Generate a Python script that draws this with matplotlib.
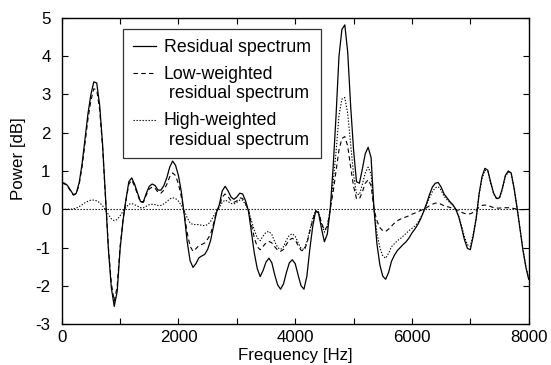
import numpy as np
import matplotlib
matplotlib.use("Agg")
import matplotlib.pyplot as plt

plt.rcParams["font.family"] = ["Liberation Sans", "DejaVu Sans"]
plt.rcParams["axes.unicode_minus"] = False

# frequency grid (Hz), 50 Hz steps
freq = np.arange(0, 8001, 50)

residual = [
    0.70, 0.68, 0.62, 0.50, 0.38, 0.42, 0.70, 1.20, 1.85, 2.50,
    3.00, 3.33, 3.30, 2.72, 1.70, 0.35, -1.05, -2.05, -2.54, -2.15,
    -1.05, -0.30, 0.25, 0.72, 0.82, 0.65, 0.42, 0.20, 0.20, 0.42,
    0.60, 0.66, 0.62, 0.50, 0.50, 0.62, 0.82, 1.10, 1.26, 1.15,
    0.88, 0.45, -0.15, -0.85, -1.35, -1.52, -1.42, -1.27, -1.22, -1.18,
    -1.05, -0.82, -0.45, -0.10, 0.12, 0.48, 0.60, 0.48, 0.32, 0.26,
    0.32, 0.42, 0.40, 0.22, -0.05, -0.60, -1.15, -1.55, -1.76, -1.60,
    -1.38, -1.28, -1.40, -1.72, -1.98, -2.09, -1.95, -1.65, -1.40, -1.32,
    -1.42, -1.72, -2.00, -2.09, -1.75, -1.05, -0.45, -0.05, -0.10, -0.50,
    -0.85, -0.65, 0.00, 1.10, 2.45, 4.00, 4.70, 4.82, 4.10, 2.70,
    1.55, 0.72, 0.68, 1.05, 1.45, 1.62, 1.35, 0.00, -0.90, -1.45,
    -1.75, -1.83, -1.65, -1.36, -1.20, -1.08, -1.00, -0.92, -0.85, -0.75,
    -0.62, -0.52, -0.40, -0.25, -0.06, 0.15, 0.38, 0.58, 0.68, 0.70,
    0.58, 0.40, 0.30, 0.20, 0.12, 0.00, -0.19, -0.48, -0.80, -1.02,
    -1.06, -0.70, -0.25, 0.40, 0.85, 1.07, 1.02, 0.70, 0.42, 0.28,
    0.30, 0.55, 0.88, 1.00, 0.95, 0.55, 0.05, -0.50, -1.05, -1.50,
    -1.83,
]

low_weighted = [
    0.68, 0.66, 0.60, 0.48, 0.37, 0.40, 0.66, 1.12, 1.74, 2.36,
    2.84, 3.15, 3.12, 2.60, 1.62, 0.32, -1.00, -1.93, -2.40, -2.02,
    -0.98, -0.28, 0.22, 0.66, 0.76, 0.60, 0.38, 0.18, 0.18, 0.38,
    0.53, 0.58, 0.55, 0.44, 0.42, 0.50, 0.65, 0.85, 0.95, 0.88,
    0.66, 0.32, -0.12, -0.62, -0.97, -1.10, -1.03, -0.95, -0.92, -0.88,
    -0.78, -0.65, -0.38, -0.08, 0.08, 0.32, 0.40, 0.33, 0.22, 0.18,
    0.22, 0.30, 0.28, 0.15, -0.03, -0.40, -0.75, -0.98, -1.06, -0.97,
    -0.88, -0.84, -0.88, -0.98, -1.07, -1.10, -1.05, -0.92, -0.80, -0.76,
    -0.80, -0.95, -1.07, -1.09, -0.90, -0.58, -0.28, -0.05, -0.08, -0.35,
    -0.55, -0.45, 0.00, 0.45, 1.00, 1.55, 1.85, 1.90, 1.65, 1.10,
    0.60, 0.28, 0.27, 0.45, 0.68, 0.77, 0.62, 0.00, -0.30, -0.48,
    -0.56, -0.58, -0.52, -0.44, -0.36, -0.30, -0.26, -0.23, -0.20, -0.17,
    -0.13, -0.10, -0.07, -0.03, 0.00, 0.04, 0.09, 0.13, 0.16, 0.16,
    0.13, 0.09, 0.07, 0.05, 0.02, 0.00, -0.04, -0.08, -0.11, -0.12,
    -0.12, -0.08, -0.02, 0.05, 0.10, 0.11, 0.10, 0.07, 0.04, 0.03,
    0.03, 0.04, 0.04, 0.04, 0.03, 0.02, 0.00, -0.01, -0.01, -0.01,
    0.00,
]

high_weighted = [
    0.00, 0.00, 0.00, 0.00, 0.01, 0.03, 0.07, 0.12, 0.17, 0.21,
    0.24, 0.24, 0.22, 0.17, 0.09, -0.02, -0.14, -0.25, -0.30, -0.27,
    -0.17, -0.05, 0.05, 0.13, 0.15, 0.12, 0.08, 0.04, 0.04, 0.08,
    0.12, 0.13, 0.12, 0.10, 0.10, 0.14, 0.20, 0.27, 0.30, 0.28,
    0.21, 0.10, -0.04, -0.22, -0.36, -0.40, -0.40, -0.40, -0.42, -0.43,
    -0.40, -0.32, -0.18, -0.05, 0.05, 0.18, 0.24, 0.20, 0.15, 0.14,
    0.18, 0.24, 0.24, 0.12, -0.03, -0.30, -0.55, -0.75, -0.82, -0.70,
    -0.60, -0.58, -0.66, -0.85, -1.00, -1.05, -0.98, -0.80, -0.68, -0.64,
    -0.70, -0.88, -1.02, -1.05, -0.85, -0.55, -0.25, -0.03, -0.07, -0.38,
    -0.60, -0.45, 0.00, 0.70, 1.50, 2.45, 2.88, 2.92, 2.50, 1.70,
    0.90, 0.40, 0.38, 0.65, 0.95, 1.10, 0.92, 0.00, -0.62, -1.00,
    -1.22, -1.28, -1.15, -0.98, -0.90, -0.82, -0.77, -0.70, -0.63, -0.56,
    -0.50, -0.44, -0.35, -0.22, -0.06, 0.12, 0.30, 0.46, 0.56, 0.59,
    0.50, 0.34, 0.25, 0.17, 0.10, 0.00, -0.17, -0.43, -0.72, -0.93,
    -0.97, -0.65, -0.23, 0.37, 0.80, 1.02, 0.98, 0.67, 0.40, 0.27,
    0.29, 0.53, 0.85, 0.97, 0.93, 0.53, 0.05, -0.49, -1.03, -1.48,
    -1.81,
]

labels = [
    "Residual spectrum",
    "Low-weighted\n residual spectrum",
    "High-weighted\n residual spectrum",
]

fig = plt.figure(figsize=(5.51, 3.65), dpi=100)
ax = fig.add_axes([0.112, 0.1123, 0.8475, 0.8384])

ax.axhline(0, color="black", lw=0.8, ls=(0, (1.2, 1.5)))
ax.plot(freq, residual, color="black", lw=0.9, label=labels[0])
ax.plot(freq, low_weighted, color="black", lw=0.8, ls=(0, (4, 3)), label=labels[1])
ax.plot(freq, high_weighted, color="black", lw=0.8, ls=(0, (1.2, 1.5)), label=labels[2])

ax.set_xlim(0, 8000)
ax.set_ylim(-3, 5)
ax.set_xticks(np.arange(0, 8001, 2000))
ax.set_xticks(np.arange(1000, 8000, 2000), minor=True)
ax.set_yticks(np.arange(-3, 6, 1))
ax.tick_params(which="both", direction="in", length=4, width=0.8,
               top=True, right=True, labelsize=12.2)
ax.tick_params(axis="y", pad=8)
ax.tick_params(axis="x", pad=4.5)
for sp in ax.spines.values():
    sp.set_linewidth(1.0)

ax.set_xlabel("Frequency [Hz]", fontsize=12.2, labelpad=2)
ax.set_ylabel("Power [dB]", fontsize=12.2)
ax.yaxis.set_label_coords(-0.076, 0.539)

leg = ax.legend(loc="upper left", bbox_to_anchor=(123 / 551, 1 - 29 / 365),
                bbox_transform=fig.transFigure, borderaxespad=0,
                fontsize=12.8, frameon=True, fancybox=False, edgecolor="black",
                handlelength=1.3, handletextpad=0.45, labelspacing=0.55,
                borderpad=0.55)
leg.get_frame().set_linewidth(0.9)
# put the handle beside the first line of two-line labels
for line, txt in zip(leg.get_lines(), leg.get_texts()):
    if "\n" in txt.get_text():
        line.set_ydata(np.asarray(line.get_ydata()) + 7.8)

fig.savefig("out.png", dpi=100)
